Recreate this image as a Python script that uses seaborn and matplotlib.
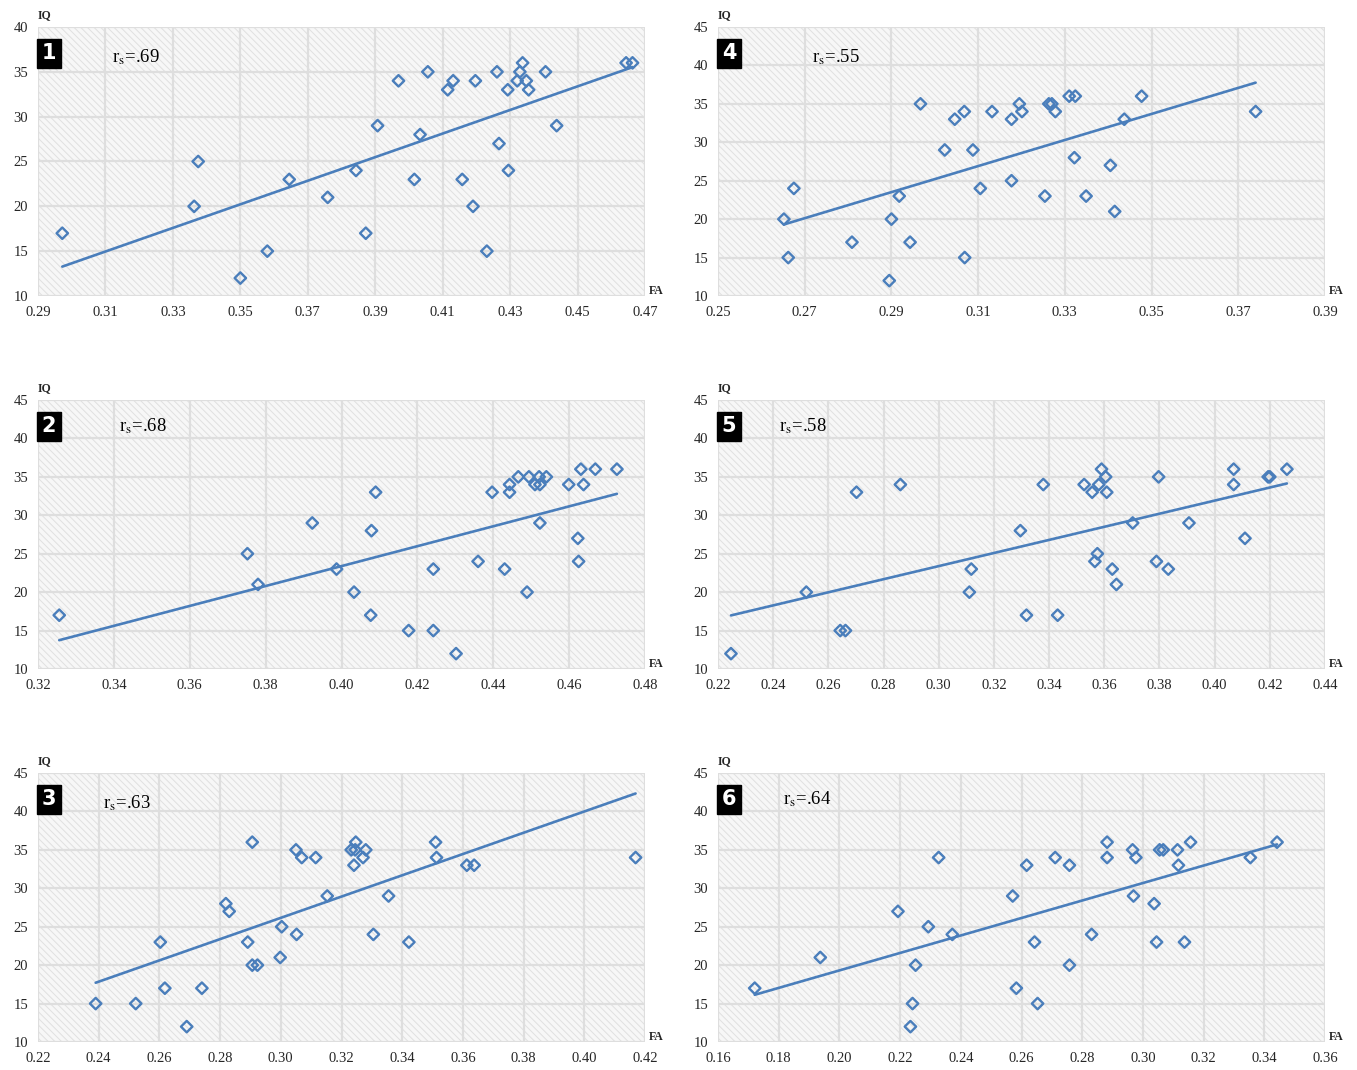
import matplotlib
matplotlib.use("Agg")
import matplotlib.pyplot as plt
from matplotlib.patches import Rectangle
import numpy as np
import pandas as pd
import seaborn as sns

# ---- data (FA vs IQ) ----
fa_1 = [0.2972, 0.3363, 0.3375, 0.3500, 0.3580, 0.3645, 0.3759, 0.3843, 0.3872, 0.3907, 0.3969,
        0.4016, 0.4033, 0.4056, 0.4115, 0.4131, 0.4158, 0.4190, 0.4197, 0.4231, 0.4261, 0.4267,
        0.4293, 0.4295, 0.4321, 0.4329, 0.4337, 0.4348, 0.4355, 0.4405, 0.4438, 0.4644, 0.4663]
iq_1 = [17, 20, 25, 12, 15, 23, 21, 24, 17, 29, 34,
        23, 28, 35, 33, 34, 23, 20, 34, 15, 35, 27,
        33, 24, 34, 35, 36, 34, 33, 35, 29, 36, 36]

fa_2 = [0.3256, 0.3752, 0.3780, 0.3923, 0.3987, 0.4033, 0.4077, 0.4079, 0.4090, 0.4177, 0.4242,
        0.4242, 0.4302, 0.4360, 0.4397, 0.4430, 0.4443, 0.4443, 0.4466, 0.4489, 0.4494, 0.4510,
        0.4521, 0.4523, 0.4523, 0.4540, 0.4599, 0.4623, 0.4625, 0.4631, 0.4638, 0.4669, 0.4726]
iq_2 = [17, 25, 21, 29, 23, 20, 17, 28, 33, 15, 23,
        15, 12, 24, 33, 23, 34, 33, 35, 20, 35, 34,
        35, 34, 29, 35, 34, 27, 24, 36, 34, 36, 36]

fa_3 = [0.2390, 0.2522, 0.2603, 0.2618, 0.2690, 0.2740, 0.2819, 0.2830, 0.2891, 0.2906, 0.2906,
        0.2923, 0.2998, 0.3003, 0.3050, 0.3052, 0.3069, 0.3115, 0.3153, 0.3232, 0.3245, 0.3247,
        0.3241, 0.3271, 0.3280, 0.3305, 0.3355, 0.3422, 0.3510, 0.3513, 0.3613, 0.3637, 0.4169]
iq_3 = [15, 15, 23, 17, 12, 17, 28, 27, 23, 36, 20,
        20, 21, 25, 35, 24, 34, 34, 29, 35, 35, 36,
        33, 34, 35, 24, 29, 23, 36, 34, 33, 33, 34]

fa_4 = [0.2652, 0.2662, 0.2675, 0.2809, 0.2895, 0.2900, 0.2918, 0.2943, 0.2967, 0.3023, 0.3046,
        0.3068, 0.3069, 0.3088, 0.3105, 0.3132, 0.3177, 0.3177, 0.3195, 0.3201, 0.3254, 0.3263,
        0.3270, 0.3278, 0.3310, 0.3324, 0.3322, 0.3349, 0.3405, 0.3415, 0.3437, 0.3477, 0.3740]
iq_4 = [20, 15, 24, 17, 12, 20, 23, 17, 35, 29, 33,
        34, 15, 29, 24, 34, 25, 33, 35, 34, 23, 35,
        35, 34, 36, 36, 28, 23, 27, 21, 33, 36, 34]

fa_5 = [0.2247, 0.2520, 0.2643, 0.2662, 0.2702, 0.2861, 0.3111, 0.3118, 0.3296, 0.3318, 0.3379,
        0.3431, 0.3527, 0.3556, 0.3566, 0.3575, 0.3580, 0.3590, 0.3605, 0.3609, 0.3629, 0.3644,
        0.3703, 0.3789, 0.3797, 0.3832, 0.3907, 0.4069, 0.4069, 0.4110, 0.4194, 0.4200, 0.4262]
iq_5 = [12, 20, 15, 15, 33, 34, 20, 23, 28, 17, 34,
        17, 34, 33, 24, 25, 34, 36, 35, 33, 23, 21,
        29, 24, 35, 23, 29, 34, 36, 27, 35, 35, 36]

fa_6 = [0.1721, 0.1937, 0.2193, 0.2293, 0.2234, 0.2241, 0.2251, 0.2327, 0.2372, 0.2571, 0.2583,
        0.2617, 0.2643, 0.2653, 0.2711, 0.2758, 0.2758, 0.2831, 0.2882, 0.2882, 0.2966, 0.2969,
        0.2977, 0.3037, 0.3045, 0.3055, 0.3067, 0.3114, 0.3117, 0.3137, 0.3157, 0.3354, 0.3442]
iq_6 = [17, 21, 27, 25, 12, 15, 20, 34, 24, 29, 17,
        33, 23, 15, 34, 33, 20, 24, 36, 34, 35, 29,
        34, 28, 23, 35, 35, 35, 33, 23, 36, 34, 36]

panel_ids = ["1", "2", "3", "4", "5", "6"]
rs_labels = [".69", ".68", ".63", ".55", ".58", ".64"]
x_ranges = [(0.29, 0.47), (0.32, 0.48), (0.22, 0.42), (0.25, 0.39), (0.22, 0.44), (0.16, 0.36)]
y_tops = [40, 45, 45, 45, 45, 45]

BLUE = "#4a7ebb"
TXT = "#262626"

sns.set_style("white")
plt.rcParams["font.family"] = ["Liberation Serif", "DejaVu Serif"]
plt.rcParams["mathtext.fontset"] = "stix"
plt.rcParams["hatch.linewidth"] = 0.7

fig = plt.figure(figsize=(13.57, 10.70), dpi=100)

W, H = 1357, 1070
# pixel boxes (left, top, right, bottom) for the plot areas
col_x = [(38, 645), (718, 1325)]
row_y = [(27, 296), (400, 669), (773, 1042)]
# panel numbers go down the left column, then down the right column
order = [(0, 0), (1, 0), (2, 0), (0, 1), (1, 1), (2, 1)]
rs_pos = [(0.122, 0.888), (0.133, 0.903), (0.107, 0.888),
          (0.155, 0.888), (0.100, 0.903), (0.107, 0.903)]

datasets = [(fa_1, iq_1), (fa_2, iq_2), (fa_3, iq_3), (fa_4, iq_4), (fa_5, iq_5), (fa_6, iq_6)]

for i, (fa, iq) in enumerate(datasets):
    r, c = order[i]
    x0, x1 = col_x[c]
    y0, y1 = row_y[r]
    ax = fig.add_axes([x0 / W, 1 - y1 / H, (x1 - x0) / W, (y1 - y0) / H])

    # hatched plot-area background
    ax.set_facecolor("white")
    ax.add_patch(Rectangle((0, 0), 1, 1, transform=ax.transAxes, facecolor="#f7f7f7",
                           edgecolor="#e0e0e0", hatch="\\\\\\\\\\", linewidth=0, zorder=0))

    df = pd.DataFrame({"FA": fa, "IQ": iq})
    sns.regplot(data=df, x="FA", y="IQ", ax=ax, ci=None, truncate=True, marker="D",
                scatter_kws={"s": 34, "facecolors": "none", "edgecolors": BLUE,
                             "linewidths": 1.7, "alpha": 1, "zorder": 3},
                line_kws={"color": BLUE, "lw": 1.9, "zorder": 2})

    lo, hi = x_ranges[i]
    ax.set_xlim(lo, hi)
    ax.set_ylim(10, y_tops[i])
    ax.set_xticks(np.round(np.arange(lo, hi + 0.001, 0.02), 2))
    ax.set_yticks(np.arange(10, y_tops[i] + 1, 5))
    ax.xaxis.set_major_formatter(matplotlib.ticker.FormatStrFormatter("%.2f"))
    ax.grid(True, color="#dedede", lw=1.6, zorder=1)
    ax.set_axisbelow(True)
    for sp in ax.spines.values():
        sp.set_visible(False)
    ax.tick_params(length=0, labelsize=10.5, labelcolor=TXT, pad=7)
    ax.set_xlabel("")
    ax.set_ylabel("")

    ax.text(0.01, 1.045, "IQ", transform=ax.transAxes, fontsize=8.5, fontweight="bold",
            ha="center", va="center", color=TXT)
    ax.text(1.019, 0.018, "FA", transform=ax.transAxes, fontsize=8.5, fontweight="bold",
            ha="center", va="center", color=TXT)
    ax.text(0.006, 0.94, panel_ids[i], transform=ax.transAxes, fontsize=15, fontweight="bold",
            family="DejaVu Sans", color="white", ha="left", va="top",
            bbox=dict(boxstyle="square,pad=0.22", facecolor="black", edgecolor="black"))
    rx, ry = rs_pos[i]
    ax.text(rx, ry, r"r$_\mathrm{s}$=" + rs_labels[i], transform=ax.transAxes, fontsize=13.5,
            ha="left", va="center", color="black")

fig.savefig("out.png", dpi=100)
